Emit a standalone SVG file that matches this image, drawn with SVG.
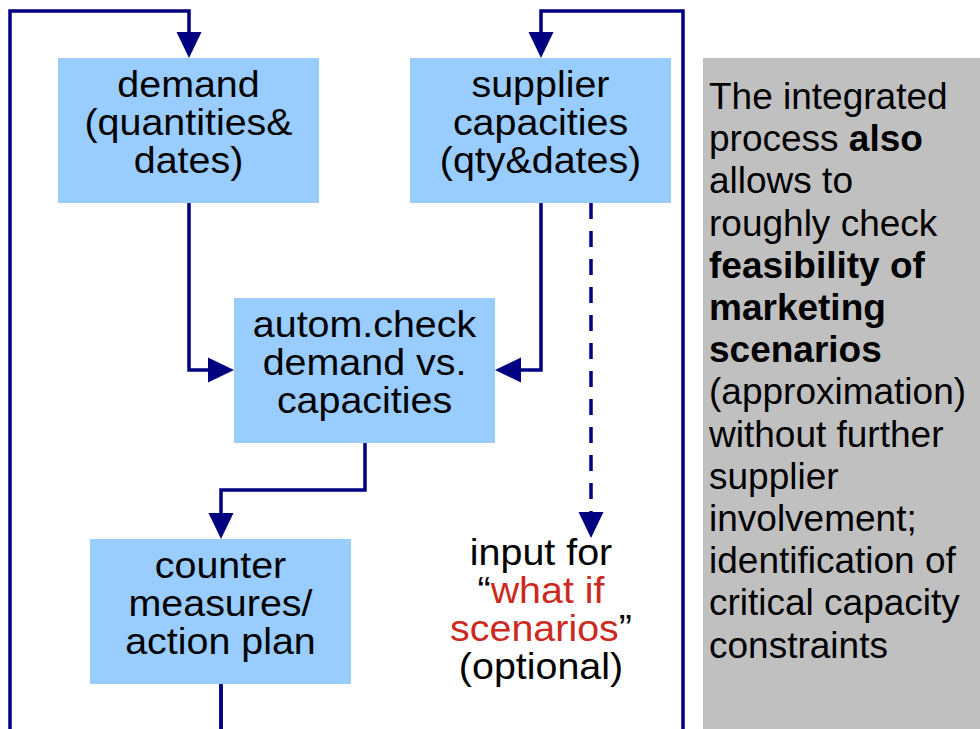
<svg xmlns="http://www.w3.org/2000/svg" width="980" height="729" viewBox="0 0 980 729">
  <style>
    .box { fill: #99CCFF; }
    .note { fill: #C0C0C0; }
    .t { font-family: "Liberation Sans", Arial, sans-serif; font-size: 37px; fill: #000; }
    .c { text-anchor: middle; }
    .b { font-weight: bold; }
    .red { fill: #CC2A1F; }
    .wire { fill: none; stroke: #000080; stroke-width: 3.5; stroke-linejoin: miter; }
    .dash { stroke-dasharray: 16 12; }
  </style>
  <defs>
    <marker id="arrow" markerUnits="userSpaceOnUse" markerWidth="27" markerHeight="26" refX="0" refY="12.5" orient="auto" overflow="visible">
      <path d="M0,0 L26,12.5 L0,25 Z" fill="#000080"/>
    </marker>
  </defs>

  <rect width="980" height="729" fill="#FFFFFF"/>

  <!-- connectors -->
  <g id="connectors">
    <!-- feedback loops from the action plan back to the inputs -->
    <path class="wire" d="M221,684 V745 H10 V11 H189 V32" marker-end="url(#arrow)"/>
    <path class="wire" d="M221,684 V745 H683 V11 H541 V32" marker-end="url(#arrow)"/>
    <!-- inputs into the automatic check -->
    <path class="wire" d="M189,203 V370 H208" marker-end="url(#arrow)"/>
    <path class="wire" d="M541,203 V370 H521" marker-end="url(#arrow)"/>
    <!-- check to counter measures -->
    <path class="wire" d="M365,443 V490 H221 V513" marker-end="url(#arrow)"/>
    <!-- optional what-if input -->
    <path class="wire dash" d="M591,203 V512" marker-end="url(#arrow)"/>
  </g>

  <g id="demand">
    <rect class="box" x="58" y="58" width="261" height="145"/>
    <g transform="translate(188.5,0) scale(1.065,1)">
      <text class="t c" x="0" y="97">demand</text>
      <text class="t c" x="0" y="135">(quantities&amp;</text>
      <text class="t c" x="0" y="173">dates)</text>
    </g>
  </g>

  <g id="supplier">
    <rect class="box" x="410" y="58" width="261" height="145"/>
    <g transform="translate(540.5,0) scale(1.065,1)">
      <text class="t c" x="0" y="97">supplier</text>
      <text class="t c" x="0" y="135">capacities</text>
      <text class="t c" x="0" y="173">(qty&amp;dates)</text>
    </g>
  </g>

  <g id="check">
    <rect class="box" x="234" y="298" width="261" height="145"/>
    <g transform="translate(364.5,0) scale(1.065,1)">
      <text class="t c" x="0" y="337">autom.check</text>
      <text class="t c" x="0" y="375">demand vs.</text>
      <text class="t c" x="0" y="413">capacities</text>
    </g>
  </g>

  <g id="countermeasures">
    <rect class="box" x="90" y="539" width="261" height="145"/>
    <g transform="translate(220.5,0) scale(1.065,1)">
      <text class="t c" x="0" y="578">counter</text>
      <text class="t c" x="0" y="616">measures/</text>
      <text class="t c" x="0" y="654">action plan</text>
    </g>
  </g>

  <g id="whatif">
    <g transform="translate(541,0) scale(1.065,1)">
      <text class="t c" x="0" y="565">input for</text>
      <text class="t c" x="0" y="603">“<tspan class="red">what if</tspan></text>
      <text class="t c" x="0" y="641"><tspan class="red">scenarios</tspan>”</text>
      <text class="t c" x="0" y="679">(optional)</text>
    </g>
  </g>

  <g id="remark">
    <rect class="note" x="703" y="58" width="277" height="671"/>
    <text class="t" x="709" y="109">The integrated</text>
    <text class="t" x="709" y="151.2">process <tspan class="b">also</tspan></text>
    <text class="t" x="709" y="193.4">allows to</text>
    <text class="t" x="709" y="235.6">roughly check</text>
    <text class="t b" x="709" y="277.8">feasibility of</text>
    <text class="t b" x="709" y="320">marketing</text>
    <text class="t b" x="709" y="362.2">scenarios</text>
    <text class="t" x="709" y="404.4">(approximation)</text>
    <text class="t" x="709" y="446.6">without further</text>
    <text class="t" x="709" y="488.8">supplier</text>
    <text class="t" x="709" y="531">involvement;</text>
    <text class="t" x="709" y="573.2">identification of</text>
    <text class="t" x="709" y="615.4">critical capacity</text>
    <text class="t" x="709" y="657.6">constraints</text>
  </g>
</svg>
